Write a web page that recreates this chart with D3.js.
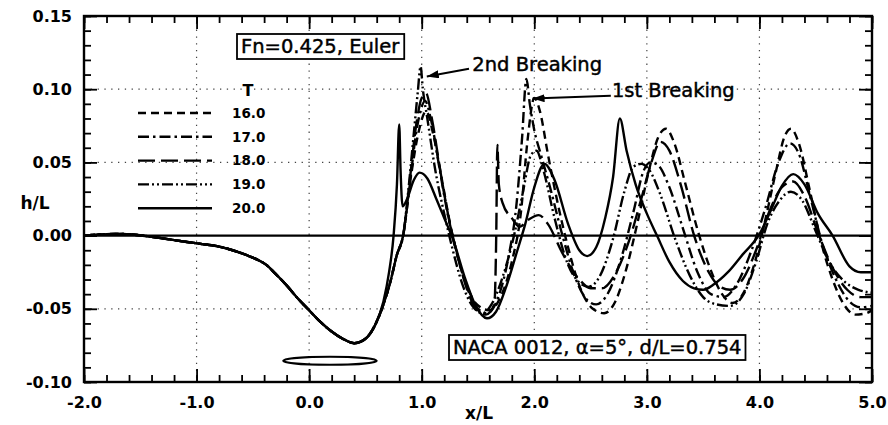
<!DOCTYPE html>
<html><head><meta charset="utf-8">
<script src="https://cdn.jsdelivr.net/npm/d3@7"></script>
<style>body{margin:0;background:#fff}</style>
</head><body><svg id="c" width="888" height="425"></svg>
<script>
// ---------- data ----------
const xTicks = [-2, -1, 0, 1, 2, 3, 4, 5];
const xTickLabels = ["-2.0", "-1.0", "0.0", "1.0", "2.0", "3.0", "4.0", "5.0"];
const yTicks = [-0.10, -0.05, 0.00, 0.05, 0.10, 0.15];
const yTickLabels = ["-0.10", "-0.05", "0.00", "0.05", "0.10", "0.15"];
const seriesNames = ["16.0", "17.0", "18.0", "19.0", "20.0"];

// shared part of all profiles (upstream + trough over the foil)
const common = [[-2.0,0.0],[-1.85,0.0008],[-1.7,0.0012],[-1.55,0.0006],[-1.4,-0.0008],[-1.25,-0.0025],
  [-1.1,-0.0042],[-0.95,-0.0058],[-0.8,-0.0075],[-0.68,-0.010],[-0.55,-0.0135],[-0.45,-0.0168],
  [-0.38,-0.020],[-0.3,-0.026],[-0.2,-0.034],[-0.1,-0.043],[0.0,-0.051],[0.1,-0.059],[0.2,-0.0655],
  [0.3,-0.0705],[0.4,-0.0735],[0.5,-0.0705],[0.58,-0.062]];

const t16 = [[0.66,-0.047],[0.72,-0.032],[0.78,-0.013],[0.835,0.0],[0.9,0.038],[0.97,0.07],[1.04,0.085],
  [1.1,0.07],[1.18,0.038],[1.26,0.005],[1.38,-0.03],[1.49,-0.047],[1.6,-0.051],[1.7,-0.042],[1.8,-0.018],
  [1.88,0.015],[1.94,0.065],[2.0,0.094],[2.05,0.085],[2.12,0.056],[2.2,0.025],[2.3,-0.008],[2.42,-0.038],
  [2.52,-0.05],[2.62,-0.053],[2.72,-0.045],[2.82,-0.022],[2.92,0.01],[3.02,0.045],[3.1,0.067],[3.17,0.073],
  [3.24,0.064],[3.34,0.036],[3.45,0.004],[3.56,-0.022],[3.66,-0.039],[3.76,-0.046],[3.86,-0.039],
  [3.96,-0.018],[4.05,0.01],[4.15,0.045],[4.22,0.067],[4.28,0.073],[4.35,0.063],[4.45,0.03],[4.55,-0.005],
  [4.65,-0.03],[4.75,-0.047],[4.85,-0.054],[4.95,-0.053],[5.0,-0.051]];

const t17 = [[0.66,-0.047],[0.72,-0.032],[0.78,-0.013],[0.835,0.0],[0.89,0.032],[0.95,0.07],[1.0,0.088],
  [1.03,0.092],[1.08,0.08],[1.16,0.045],[1.23,0.015],[1.29,-0.005],[1.4,-0.035],[1.5,-0.05],[1.58,-0.053],
  [1.68,-0.042],[1.77,-0.015],[1.84,0.02],[1.89,0.065],[1.93,0.107],[1.96,0.09],[2.0,0.072],[2.06,0.055],
  [2.14,0.033],[2.24,0.003],[2.36,-0.028],[2.47,-0.044],[2.55,-0.047],[2.65,-0.04],[2.77,-0.016],
  [2.88,0.016],[2.97,0.044],[3.03,0.05],[3.1,0.048],[3.2,0.033],[3.32,0.005],[3.45,-0.025],[3.57,-0.04],
  [3.68,-0.042],[3.8,-0.033],[3.93,-0.01],[4.05,0.018],[4.17,0.05],[4.27,0.063],[4.35,0.056],[4.45,0.027],
  [4.56,-0.006],[4.68,-0.03],[4.8,-0.045],[4.9,-0.049],[5.0,-0.048]];

const t18 = [[0.66,-0.047],[0.72,-0.032],[0.78,-0.013],[0.835,0.0],[0.89,0.035],[0.95,0.075],[1.0,0.094],
  [1.04,0.097],[1.09,0.08],[1.17,0.042],[1.24,0.012],[1.3,-0.008],[1.4,-0.036],[1.49,-0.051],[1.57,-0.054],
  [1.645,-0.047],[1.662,0.0],[1.672,0.062],[1.685,0.035],[1.72,0.022],[1.8,0.012],[1.87,0.006],[1.95,0.011],
  [2.04,0.014],[2.12,0.008],[2.25,-0.012],[2.4,-0.03],[2.5,-0.036],[2.6,-0.036],[2.72,-0.026],[2.84,-0.004],
  [2.95,0.025],[3.04,0.05],[3.12,0.064],[3.2,0.058],[3.3,0.035],[3.42,0.0],[3.55,-0.025],[3.65,-0.035],
  [3.74,-0.037],[3.85,-0.03],[3.97,-0.01],[4.08,0.015],[4.2,0.033],[4.3,0.037],[4.4,0.027],[4.52,0.002],
  [4.65,-0.022],[4.78,-0.037],[4.9,-0.042],[5.0,-0.042]];

const t19 = [[0.66,-0.047],[0.72,-0.032],[0.78,-0.013],[0.835,0.0],[0.88,0.03],[0.93,0.07],[0.965,0.098],
  [0.99,0.1155],[1.01,0.1],[1.05,0.08],[1.12,0.045],[1.2,0.015],[1.27,-0.008],[1.36,-0.033],[1.45,-0.048],
  [1.54,-0.053],[1.62,-0.047],[1.72,-0.028],[1.82,0.0],[1.9,0.03],[1.97,0.055],[2.02,0.058],[2.08,0.045],
  [2.18,0.012],[2.3,-0.02],[2.4,-0.032],[2.48,-0.035],[2.58,-0.028],[2.7,-0.002],[2.8,0.03],[2.88,0.047],
  [2.95,0.049],[3.02,0.045],[3.12,0.028],[3.25,-0.002],[3.38,-0.027],[3.5,-0.042],[3.62,-0.047],
  [3.74,-0.048],[3.86,-0.04],[3.97,-0.018],[4.07,0.008],[4.18,0.024],[4.28,0.030],[4.38,0.024],[4.5,0.003],
  [4.62,-0.018],[4.75,-0.031],[4.88,-0.037],[5.0,-0.039]];

const t20 = [[0.66,-0.045],[0.71,-0.025],[0.75,0.0],[0.78,0.035],[0.80,0.076],[0.812,0.045],[0.83,0.02],
  [0.87,0.025],[0.93,0.038],[0.98,0.043],[1.05,0.039],[1.13,0.025],[1.2,0.012],[1.28,-0.003],[1.38,-0.028],
  [1.48,-0.048],[1.58,-0.0565],[1.66,-0.052],[1.75,-0.035],[1.85,-0.01],[1.92,0.008],[2.0,0.033],[2.09,0.049],
  [2.18,0.038],[2.3,0.008],[2.4,-0.01],[2.47,-0.014],[2.55,-0.008],[2.63,0.012],[2.7,0.04],[2.76,0.080],
  [2.82,0.058],[2.9,0.035],[3.0,0.015],[3.09,0.0],[3.2,-0.018],[3.32,-0.031],[3.42,-0.036],[3.5,-0.037],
  [3.6,-0.033],[3.72,-0.025],[3.85,-0.013],[4.0,0.001],[4.1,0.017],[4.2,0.034],[4.3,0.042],[4.4,0.035],
  [4.52,0.015],[4.65,0.0],[4.8,-0.021],[4.9,-0.025],[5.0,-0.025]];

const seriesData = [t16, t17, t18, t19, t20];
const dashes = ["8,5", "11,4,2.5,4", "17,6", "11,3,2,3,2,3", null];

// hydrofoil outline (x from, x to, y centre) in chart units
const foil = [-0.23, 0.60, -0.0855];

// ---------- layout ----------
const svg = d3.select("#c");
const L = 84, R = 872, T = 16, B = 382;
const x = d3.scaleLinear().domain([-2, 5]).range([L, R]);
const y = d3.scaleLinear().domain([-0.10, 0.15]).range([B, T]);
const fontT = "'DejaVu Sans', sans-serif";

svg.append("defs").append("clipPath").attr("id","clip")
  .append("rect").attr("x",L).attr("y",T).attr("width",R-L).attr("height",B-T);

// grid (dotted)
const grid = svg.append("g").attr("stroke","#444").attr("stroke-width",1.2).attr("stroke-dasharray","1.3,5.5");
grid.selectAll(".gx").data(xTicks.slice(1,-1)).join("line")
  .attr("x1",d=>x(d)).attr("x2",d=>x(d)).attr("y1",T).attr("y2",B);
grid.selectAll(".gy").data([-0.05,0.05,0.10]).join("line")
  .attr("y1",d=>y(d)).attr("y2",d=>y(d)).attr("x1",L).attr("x2",R);

// zero line
svg.append("line").attr("x1",L).attr("x2",R).attr("y1",y(0)).attr("y2",y(0))
  .attr("stroke","#000").attr("stroke-width",2.2);

// axes
function styleAxis(g){ g.select(".domain").remove(); g.selectAll("line").attr("stroke","#000").attr("stroke-width",1.8); }
const minorX = d3.range(-2, 5.0001, 0.2);
const minorY = d3.range(-0.10, 0.1501, 0.01);

svg.append("g").attr("transform",`translate(0,${B})`)
  .call(d3.axisBottom(x).tickValues(minorX).tickSize(-7).tickFormat("")).call(styleAxis);
svg.append("g").attr("transform",`translate(0,${T})`)
  .call(d3.axisTop(x).tickValues(minorX).tickSize(-7).tickFormat("")).call(styleAxis);
svg.append("g").attr("transform",`translate(${L},0)`)
  .call(d3.axisLeft(y).tickValues(minorY).tickSize(-7).tickFormat("")).call(styleAxis);
svg.append("g").attr("transform",`translate(${R},0)`)
  .call(d3.axisRight(y).tickValues(minorY).tickSize(-7).tickFormat("")).call(styleAxis);

const gx = svg.append("g").attr("transform",`translate(0,${B})`)
  .call(d3.axisBottom(x).tickValues(xTicks).tickSize(-13).tickPadding(15).tickFormat((d,i)=>xTickLabels[i]))
  .call(styleAxis);
svg.append("g").attr("transform",`translate(0,${T})`)
  .call(d3.axisTop(x).tickValues(xTicks).tickSize(-13).tickFormat("")).call(styleAxis);
const gy = svg.append("g").attr("transform",`translate(${L},0)`)
  .call(d3.axisLeft(y).tickValues(yTicks).tickSize(-13).tickPadding(12).tickFormat((d,i)=>yTickLabels[i]))
  .call(styleAxis);
svg.append("g").attr("transform",`translate(${R},0)`)
  .call(d3.axisRight(y).tickValues(yTicks).tickSize(-13).tickFormat("")).call(styleAxis);
[gx, gy].forEach(g => g.selectAll("text").attr("font-family",fontT).attr("font-weight","bold")
  .attr("font-size",16).attr("fill","#000"));

// frame
svg.append("rect").attr("x",L).attr("y",T).attr("width",R-L).attr("height",B-T)
  .attr("fill","none").attr("stroke","#000").attr("stroke-width",2.4);

// axis titles
svg.append("text").attr("x",35).attr("y",y(0.022)).attr("dy","0.35em").attr("text-anchor","middle")
  .attr("font-family",fontT).attr("font-weight","bold").attr("font-size",17).text("h/L");
svg.append("text").attr("x",x(1.51)).attr("y",419).attr("text-anchor","middle")
  .attr("font-family",fontT).attr("font-weight","bold").attr("font-size",17).text("x/L");

// curves
const line = d3.line().x(d=>x(d[0])).y(d=>y(d[1])).curve(d3.curveMonotoneX);
const plot = svg.append("g").attr("clip-path","url(#clip)");
seriesData.forEach((s,i)=>{
  plot.append("path").attr("d", line(common.concat(s))).attr("fill","none")
    .attr("stroke","#000").attr("stroke-width",2.4).attr("stroke-linejoin","round")
    .attr("stroke-dasharray", dashes[i]);
});

// hydrofoil
svg.append("ellipse").attr("cx",x((foil[0]+foil[1])/2)).attr("cy",y(foil[2]))
  .attr("rx",(x(foil[1])-x(foil[0]))/2).attr("ry",4)
  .attr("fill","none").attr("stroke","#000").attr("stroke-width",2.2);

// legend
const leg = svg.append("g");
leg.append("text").attr("x",248).attr("y",90).attr("dy","0.35em").attr("text-anchor","middle")
  .attr("font-family",fontT).attr("font-size",16).attr("font-weight","bold").text("T");
seriesNames.forEach((n,i)=>{
  const yy = 113 + i*23.8;
  leg.append("line").attr("x1",138).attr("x2",212).attr("y1",yy).attr("y2",yy)
    .attr("stroke","#000").attr("stroke-width",2.4).attr("stroke-dasharray",dashes[i]);
  leg.append("text").attr("x",232).attr("y",yy).attr("dy","0.36em")
    .attr("font-family",fontT).attr("font-size",13.5).attr("font-weight","bold").text(n);
});

// boxed labels
function boxed(tx, ty, str){
  const t = svg.append("text").attr("x",tx).attr("y",ty).attr("font-family",fontT)
    .attr("font-size",19.5).attr("fill","#000").attr("stroke","#000").attr("stroke-width",0.45).text(str);
  const b = t.node().getBBox();
  svg.insert("rect", () => t.node()).attr("x",b.x-4).attr("y",b.y-1).attr("width",b.width+8)
    .attr("height",b.height+2).attr("fill","#fff").attr("stroke","#000").attr("stroke-width",1.8);
}
boxed(241, 53, "Fn=0.425, Euler");
boxed(453, 354, "NACA 0012, α=5°, d/L=0.754");

// annotations with arrows
svg.append("defs").append("marker").attr("id","ah").attr("viewBox","0 0 12 8").attr("refX",12).attr("refY",4)
  .attr("markerWidth",12).attr("markerHeight",8).attr("markerUnits","userSpaceOnUse").attr("orient","auto")
  .append("path").attr("d","M0,0 L12,4 L0,8 Z").attr("fill","#000");
function note(tx, ty, hx, hy, lx, ly, str){
  svg.append("line").attr("x1",x(lx)).attr("y1",y(ly)).attr("x2",x(hx)).attr("y2",y(hy))
    .attr("stroke","#000").attr("stroke-width",2).attr("marker-end","url(#ah)");
  svg.append("text").attr("x",x(tx)).attr("y",y(ty)).attr("font-family",fontT)
    .attr("font-size",19.5).attr("stroke","#000").attr("stroke-width",0.45).text(str);
}
note(1.45, 0.1127, 1.045, 0.1087, 1.42, 0.1140, "2nd Breaking");
note(2.69, 0.0945, 1.985, 0.0936, 2.68, 0.0955, "1st Breaking");
</script>
</body></html>
